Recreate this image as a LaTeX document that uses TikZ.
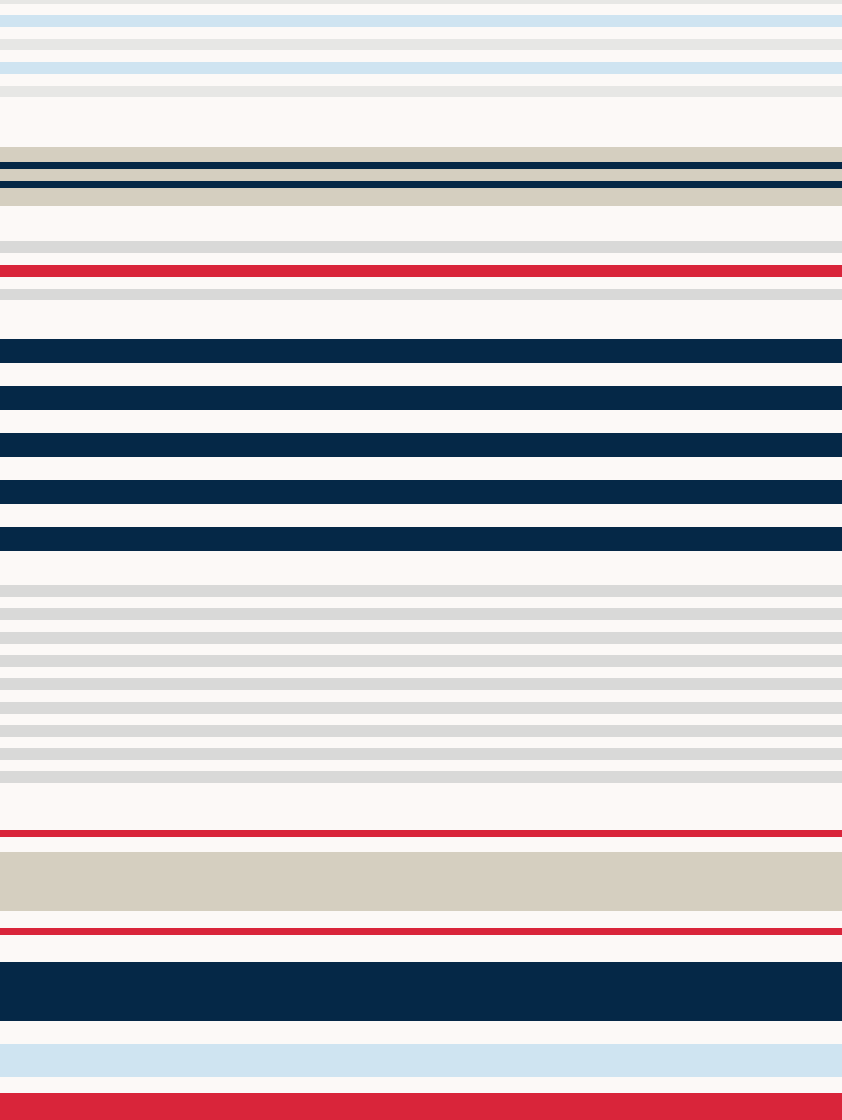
\documentclass[tikz,border=0pt]{standalone}
\definecolor{bgc}{HTML}{FCF9F7}
\definecolor{lblue}{HTML}{CFE4F1}
\definecolor{lgray}{HTML}{E7E7E5}
\definecolor{mgray}{HTML}{D9D9D8}
\definecolor{tan}{HTML}{D5CFC0}
\definecolor{navy}{HTML}{052847}
\definecolor{sred}{HTML}{D9253A}
\tikzset{
  band/.style={fill=#1, draw=none}
}
\newcommand{\stripe}[3]{\fill[band=#3] (0,#1) rectangle (842,#2);}
\begin{document}
\begin{tikzpicture}[x=1pt,y=-1pt]
\useasboundingbox (0,0) rectangle (842,1120);
\fill[bgc] (0,0) rectangle (842,1120);
% top light stripes
\stripe{0}{4}{lgray}
\stripe{15}{27}{lblue}
\stripe{39}{50}{lgray}
\stripe{62}{74}{lblue}
\stripe{86}{97}{lgray}
% tan / navy group
\stripe{147}{206}{tan}
\stripe{162}{169}{navy}
\stripe{181}{188}{navy}
% gray / red
\stripe{241}{253}{mgray}
\stripe{265}{277}{sred}
\stripe{289}{300}{mgray}
% navy bands
\foreach \t in {339,386,433,480,527}{
  \stripe{\t}{\t+24}{navy}
}
% grey bands
\foreach \i in {0,...,8}{
  \pgfmathsetmacro{\t}{585+23.3*\i}
  \stripe{\t}{\t+12}{mgray}
}
% lower group
\stripe{830}{837}{sred}
\stripe{852}{911}{tan}
\stripe{928}{935}{sred}
\stripe{962}{1021}{navy}
\stripe{1044}{1077}{lblue}
\stripe{1093}{1120}{sred}
\end{tikzpicture}
\end{document}
